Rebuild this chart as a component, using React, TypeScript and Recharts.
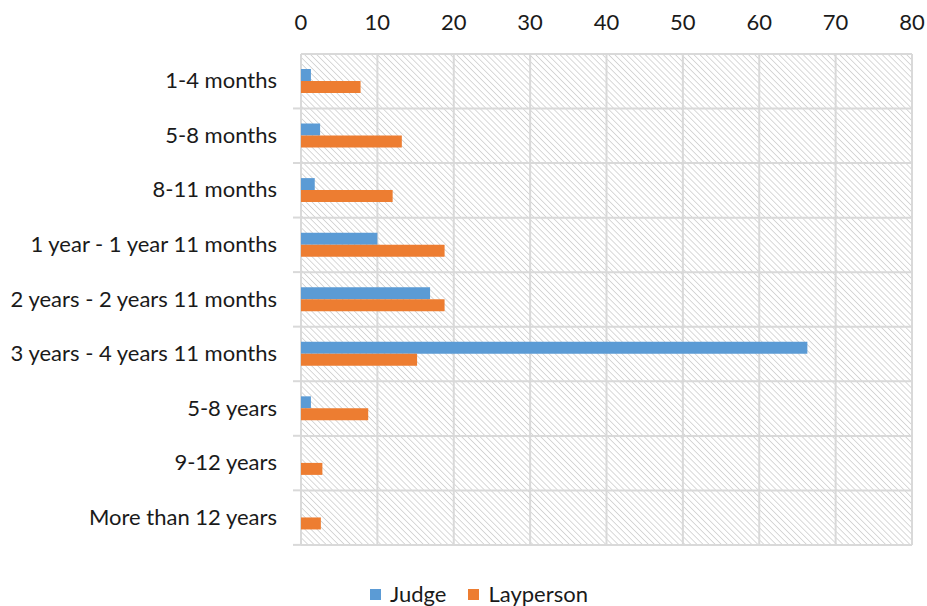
import React from 'react';
import { BarChart, Bar, XAxis, YAxis, CartesianGrid, Legend } from 'recharts';

const categories = [
  '1-4 months',
  '5-8 months',
  '8-11 months',
  '1 year - 1 year 11 months',
  '2 years - 2 years 11 months',
  '3 years - 4 years 11 months',
  '5-8 years',
  '9-12 years',
  'More than 12 years',
];
const judge = [1.3, 2.5, 1.8, 10.0, 16.9, 66.3, 1.3, 0, 0];
const layperson = [7.8, 13.2, 12.0, 18.8, 18.8, 15.2, 8.8, 2.8, 2.6];
const xTicks = [0, 10, 20, 30, 40, 50, 60, 70, 80];

const data = categories.map((name, i) => ({ name, Judge: judge[i], Layperson: layperson[i] }));

const FONT = 'Lato, "Liberation Sans", sans-serif';
const TEXT = '#1a1a1a';
const GRID = '#d9d9d9';

// category ticks: label on the left plus a short mark at the row boundary below
const CategoryTick = (props: any) => {
  const { x, y, payload, band } = props;
  return (
    <g>
      <line x1={x} x2={x + 8} y1={y + band / 2} y2={y + band / 2} stroke={GRID} strokeWidth={2} />
      <text x={x - 16} y={y} dy={7} textAnchor="end" fill={TEXT} fontSize={22} fontFamily={FONT}>
        {payload.value}
      </text>
    </g>
  );
};

const LegendContent = (props: any) => {
  const { payload } = props;
  return (
    <div style={{ display: 'flex', justifyContent: 'center', alignItems: 'center', fontFamily: FONT, fontSize: 22, lineHeight: '24px', color: TEXT, paddingLeft: 46 }}>
      {payload.map((p: any, i: number) => (
        <div key={p.value} style={{ display: 'flex', alignItems: 'center', marginLeft: i ? 22 : 0 }}>
          <span style={{ display: 'inline-block', width: 11, height: 11, background: p.color, marginRight: 9 }} />
          <span>{p.value}</span>
        </div>
      ))}
    </div>
  );
};

export default function App() {
  const width = 927;
  const height = 606;
  const margin = { top: 0, right: 15, bottom: 0, left: 0 };
  const plotTop = 54;
  const plotBottom = 543;
  const band = (plotBottom - plotTop) / categories.length;

  return (
    <div style={{ position: 'absolute', left: 0, top: 0, background: '#fff' }}>
      <BarChart
        width={width}
        height={height}
        data={data}
        layout="vertical"
        margin={margin}
        barGap={0}
        barSize={12}
      >
        <defs>
          <pattern id="hatch" width="4.3" height="4.3" patternUnits="userSpaceOnUse" patternTransform="rotate(-45)">
            <rect width="4.3" height="4.3" fill="#ffffff" />
            <line x1="0" y1="0" x2="0" y2="4.3" stroke="#d0d0d0" strokeWidth="1.6" />
          </pattern>
        </defs>
        <CartesianGrid
          fill="url(#hatch)"
          stroke={GRID}
          strokeWidth={2}
          horizontalCoordinatesGenerator={({ offset }: any) =>
            categories.map((_, i) => offset.top + (i * offset.height) / categories.length).concat(offset.top + offset.height)
          }
        />
        <XAxis
          type="number"
          orientation="top"
          domain={[0, 80]}
          ticks={xTicks}
          height={plotTop}
          axisLine={false}
          tickLine={false}
          tick={{ fill: TEXT, fontSize: 22, fontFamily: FONT }}
          tickMargin={18}
          interval={0}
        />
        <YAxis
          type="category"
          dataKey="name"
          width={301}
          axisLine={false}
          tickLine={false}
          interval={0}
          tick={<CategoryTick band={band} />}
        />
        <Legend
          verticalAlign="bottom"
          height={24}
          content={<LegendContent />}
          wrapperStyle={{ paddingTop: 37 }}
        />
        <Bar dataKey="Judge" fill="#5b9bd5" isAnimationActive={false} />
        <Bar dataKey="Layperson" fill="#ed7d31" isAnimationActive={false} />
      </BarChart>
    </div>
  );
}
